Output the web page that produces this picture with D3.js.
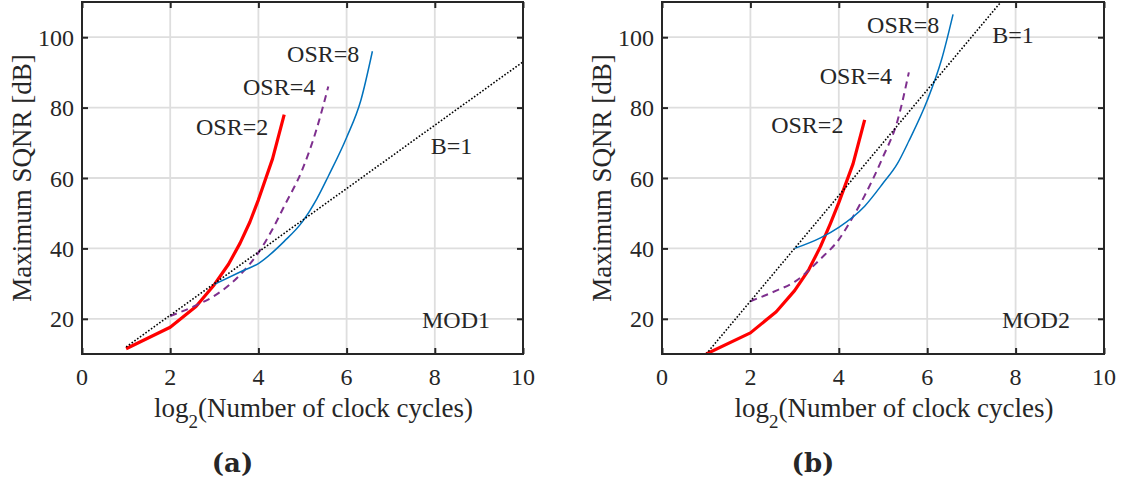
<!DOCTYPE html>
<html><head><meta charset="utf-8">
<script src="https://cdn.jsdelivr.net/npm/d3@7"></script>
<style>
body{margin:0;background:#fff}
text{font-family:"Liberation Serif","Times New Roman",serif;fill:#262626}
</style>
</head><body>
<svg id="c" width="1128" height="489"></svg>
<script>
// ---- data ----
const xTicks = [0, 2, 4, 6, 8, 10];
const yTicks = [20, 40, 60, 80, 100];

// MOD1 (panel a)
const m1_osr2_x = [1, 2, 2.585, 3, 3.322, 3.585, 3.807, 4, 4.322, 4.585];
const m1_osr2_y = [11.5, 17.6, 23.5, 29.7, 35.5, 41.5, 47.5, 53.8, 65.5, 78];
const m1_osr4_x = [2, 2.585, 3, 3.585, 4, 4.322, 4.585, 5, 5.322, 5.585];
const m1_osr4_y = [20.8, 23.8, 26.5, 32.5, 38.8, 45.5, 52, 62.5, 74, 86];
const m1_osr8_x = [3, 3.585, 4, 4.585, 5, 5.322, 5.585, 6, 6.322, 6.585];
const m1_osr8_y = [29.8, 33.3, 35.7, 42, 47.6, 54, 60.5, 71.5, 82, 96];
const m1_b1_x = [1, 10];
const m1_b1_y = [12, 93];

// MOD2 (panel b)
const m2_osr2_x = [1, 2, 2.585, 3, 3.322, 3.585, 3.807, 4, 4.322, 4.585];
const m2_osr2_y = [10, 16, 22, 28, 34, 40.5, 47, 53, 64, 76.5];
const m2_osr4_x = [2, 2.585, 3, 3.585, 4, 4.322, 4.585, 5, 5.322, 5.585];
const m2_osr4_y = [25, 28, 30.5, 37, 42.5, 49, 55, 66, 76, 90];
const m2_osr8_x = [3, 3.585, 4, 4.585, 5, 5.322, 5.585, 6, 6.322, 6.585];
const m2_osr8_y = [40, 43, 46, 52, 58.5, 64, 70.5, 82, 93.5, 106.5];
const m2_b1_x = [1, 10];
const m2_b1_y = [10, 145];

const seriesStyles = {
  osr2: {color: "#FF0000", width: 3.2, dash: null, curve: d3.curveLinear},
  osr4: {color: "#7E2F8E", width: 2, dash: "7,5", curve: d3.curveMonotoneX},
  osr8: {color: "#0072BD", width: 1.5, dash: null, curve: d3.curveMonotoneX},
  b1:   {color: "#000000", width: 1.6, dash: "1.6,1.8", curve: d3.curveLinear}
};

const panels = [
  {id: "a", left: 82, right: 523, caption: "(a)",
   series: [["osr2", m1_osr2_x, m1_osr2_y], ["osr4", m1_osr4_x, m1_osr4_y],
            ["osr8", m1_osr8_x, m1_osr8_y], ["b1", m1_b1_x, m1_b1_y]],
   notes: [["OSR=8", 4.65, 93], ["OSR=4", 3.65, 83.6], ["OSR=2", 2.585, 72.2],
           ["B=1", 7.91, 66.8], ["MOD1", 7.71, 17.4]]},
  {id: "b", left: 662, right: 1104, caption: "(b)",
   series: [["osr2", m2_osr2_x, m2_osr2_y], ["osr4", m2_osr4_x, m2_osr4_y],
            ["osr8", m2_osr8_x, m2_osr8_y], ["b1", m2_b1_x, m2_b1_y]],
   notes: [["OSR=8", 4.64, 101.2], ["B=1", 7.47, 98.4], ["OSR=4", 3.57, 86.7],
           ["OSR=2", 2.47, 72.8], ["MOD2", 7.69, 17.4]]}
];

const yTop = 2, yBottom = 354;
const svg = d3.select("#c");
svg.append("rect").attr("width", 1128).attr("height", 489).attr("fill", "#fff");

panels.forEach(p => {
  const x = d3.scaleLinear().domain([0, 10]).range([p.left, p.right]);
  const y = d3.scaleLinear().domain([10, 110]).range([yBottom, yTop]);
  const g = svg.append("g");

  // grid
  g.selectAll(".gx").data(xTicks.filter(t => t > 0 && t < 10)).join("line")
    .attr("x1", d => x(d)).attr("x2", d => x(d)).attr("y1", yTop).attr("y2", yBottom)
    .attr("stroke", "#dedede").attr("stroke-width", 1.8);
  g.selectAll(".gy").data(yTicks).join("line")
    .attr("y1", d => y(d)).attr("y2", d => y(d)).attr("x1", p.left).attr("x2", p.right)
    .attr("stroke", "#dedede").attr("stroke-width", 1.8);

  // clip
  const cid = "clip" + p.id;
  svg.append("clipPath").attr("id", cid).append("rect")
    .attr("x", p.left).attr("y", yTop).attr("width", p.right - p.left).attr("height", yBottom - yTop);

  const lg = g.append("g").attr("clip-path", `url(#${cid})`);
  p.series.forEach(([k, xs, ys]) => {
    const st = seriesStyles[k];
    const line = d3.line().x(d => x(d[0])).y(d => y(d[1])).curve(st.curve);
    lg.append("path").datum(xs.map((v, i) => [v, ys[i]]))
      .attr("d", line).attr("fill", "none")
      .attr("stroke", st.color).attr("stroke-width", st.width)
      .attr("stroke-dasharray", st.dash)
      .attr("stroke-linejoin", "round");
  });

  // axes (ticks inward)
  const tl = 6;
  const axB = d3.axisBottom(x).tickValues(xTicks).tickSize(-tl).tickFormat("");
  const axT = d3.axisTop(x).tickValues(xTicks).tickSize(-tl).tickFormat("");
  const axL = d3.axisLeft(y).tickValues(yTicks).tickSize(-tl).tickFormat("");
  const axR = d3.axisRight(y).tickValues(yTicks).tickSize(-tl).tickFormat("");
  [[axB, `translate(0,${yBottom})`], [axT, `translate(0,${yTop})`],
   [axL, `translate(${p.left},0)`], [axR, `translate(${p.right},0)`]].forEach(([a, tr]) => {
    const ag = g.append("g").attr("transform", tr).call(a);
    ag.select(".domain").remove();
    ag.selectAll("line").attr("stroke", "#262626").attr("stroke-width", 2);
  });
  g.append("rect").attr("x", p.left).attr("y", yTop).attr("width", p.right - p.left)
    .attr("height", yBottom - yTop).attr("fill", "none").attr("stroke", "#262626").attr("stroke-width", 2);

  // tick labels
  g.selectAll(".xl").data(xTicks).join("text")
    .attr("x", d => x(d)).attr("y", 385).attr("text-anchor", "middle")
    .attr("font-size", 24).text(d => d);
  g.selectAll(".yl").data(yTicks).join("text")
    .attr("x", p.left - 8).attr("y", d => y(d) + 8.5).attr("text-anchor", "end")
    .attr("font-size", 24).text(d => d);

  // axis labels
  const xl = g.append("text").attr("x", (p.left + p.right) / 2 + 11).attr("y", 417)
    .attr("text-anchor", "middle").attr("font-size", 27);
  xl.append("tspan").text("log");
  xl.append("tspan").attr("font-size", 19).attr("dy", 11).text("2");
  xl.append("tspan").attr("dy", -11).text("(Number of clock cycles)");

  g.append("text").attr("transform", `translate(${p.left - 51},${(yTop + yBottom) / 2}) rotate(-90)`)
    .attr("text-anchor", "middle").attr("font-size", 27).text("Maximum SQNR [dB]");

  // annotations
  p.notes.forEach(([t, nx, ny]) => {
    g.append("text").attr("x", x(nx)).attr("y", y(ny)).attr("font-size", 24).text(t);
  });

  // caption
  g.append("text").attr("x", (p.left + p.right) / 2 - 70).attr("y", 472)
    .attr("text-anchor", "middle").attr("font-size", 26).attr("font-weight", "bold")
    .style("font-family", "'DejaVu Serif', serif").text(p.caption);
});
</script>
</body></html>
